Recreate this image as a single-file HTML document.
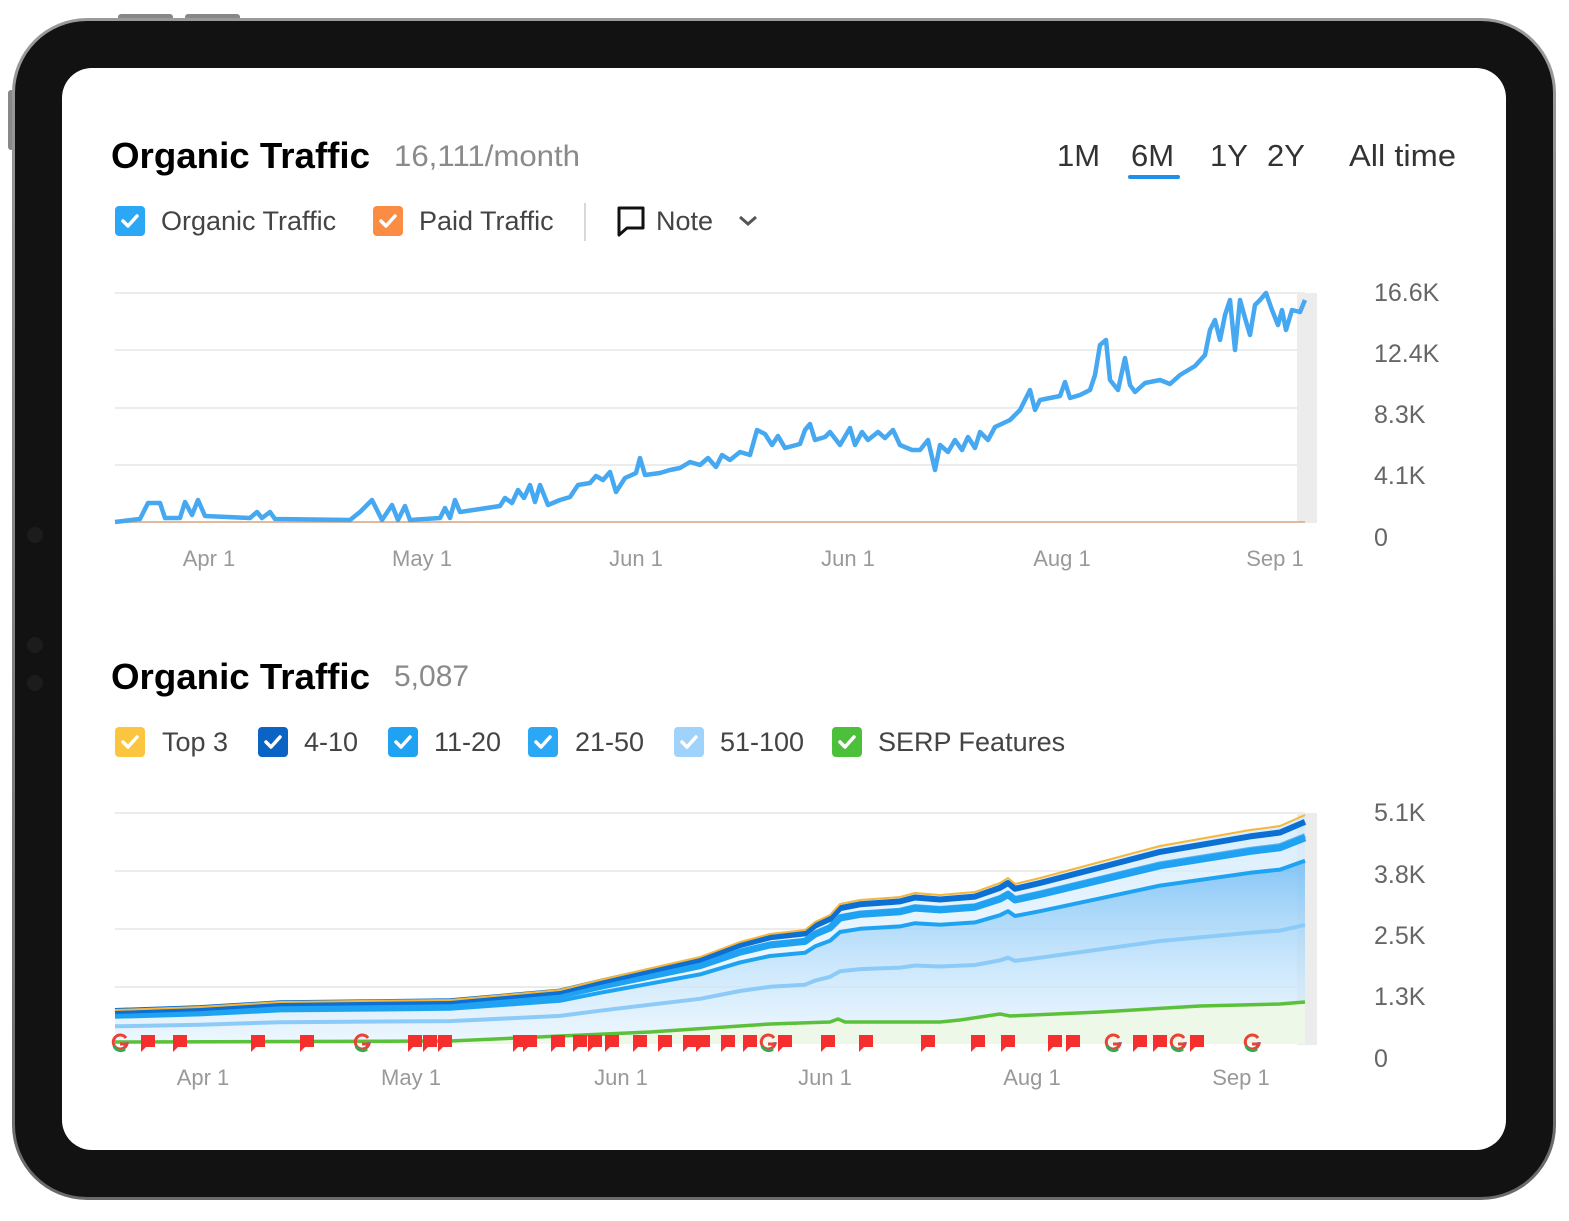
<!DOCTYPE html>
<html><head><meta charset="utf-8"><style>
html,body{margin:0;padding:0;background:#fff;width:1569px;height:1221px;overflow:hidden}
svg text{font-family:"Liberation Sans",sans-serif}
</style></head><body>
<svg id="s" width="1569" height="1221" viewBox="0 0 1569 1221" xmlns="http://www.w3.org/2000/svg">
<defs>
<linearGradient id="bz" x1="0" y1="0" x2="0" y2="1"><stop offset="0" stop-color="#9a9a9a"/><stop offset="1" stop-color="#6a6a6a"/></linearGradient>
<linearGradient id="fa" x1="0" y1="0" x2="0" y2="1"><stop offset="0" stop-color="#3aa2f0" stop-opacity="0.55"/><stop offset="1" stop-color="#bfe3fb" stop-opacity="0.15"/></linearGradient>
<linearGradient id="fb" x1="0" y1="0" x2="0" y2="1"><stop offset="0" stop-color="#cfe9fc" stop-opacity="0.8"/><stop offset="1" stop-color="#eef7fe" stop-opacity="0.6"/></linearGradient>
</defs>
<rect x="118" y="14" width="55" height="8" rx="3" fill="#888"/>
<rect x="185" y="14" width="55" height="8" rx="3" fill="#888"/>
<rect x="8" y="90" width="6" height="60" rx="3" fill="#888"/>
<rect x="12" y="18" width="1544" height="1182" rx="75" fill="url(#bz)"/>
<rect x="15" y="21" width="1538" height="1176" rx="72" fill="#121212"/>
<rect x="62" y="68" width="1444" height="1082" rx="30" fill="#fff"/>
<circle cx="35" cy="535" r="8" fill="#1c1c1c"/><circle cx="35" cy="645" r="8" fill="#1c1c1c"/><circle cx="35" cy="683" r="8" fill="#1c1c1c"/>

<text x="111" y="168" font-size="36" font-weight="bold" fill="#000" textLength="259" lengthAdjust="spacingAndGlyphs">Organic Traffic</text>
<text x="394" y="166" font-size="30" fill="#8a8a8a" textLength="186" lengthAdjust="spacingAndGlyphs">16,111/month</text>
<g font-size="31" fill="#333">
<text x="1057" y="166">1M</text><text x="1131" y="166">6M</text><text x="1210" y="166">1Y</text><text x="1267" y="166">2Y</text><text x="1349" y="166" textLength="107" lengthAdjust="spacingAndGlyphs">All time</text></g>
<rect x="1128" y="175" width="52" height="4" rx="2" fill="#1e90ea"/>

<g id="lg1"></g>
<line x1="585" y1="203" x2="585" y2="241" stroke="#d8d8d8" stroke-width="2"/>
<path d="M619 208 h24 v20 h-16 l-8 7 z" fill="none" stroke="#111" stroke-width="3" stroke-linejoin="round"/>
<text x="656" y="230" font-size="27" fill="#444">Note</text>
<path d="M740 217 l8 7 l8 -7" fill="none" stroke="#555" stroke-width="3"/>

<g stroke="#e6e6e6" stroke-width="1.5">
<line x1="115" y1="293" x2="1305" y2="293"/><line x1="115" y1="350" x2="1305" y2="350"/><line x1="115" y1="408" x2="1305" y2="408"/><line x1="115" y1="465" x2="1305" y2="465"/>
<line x1="115" y1="813" x2="1305" y2="813"/><line x1="115" y1="871" x2="1305" y2="871"/><line x1="115" y1="929" x2="1305" y2="929"/><line x1="115" y1="987" x2="1305" y2="987"/>
</g>
<rect x="1297" y="293" width="20" height="230" fill="#ececec"/>
<rect x="1297" y="813" width="20" height="232" fill="#ececec"/>
<line x1="115" y1="522" x2="1305" y2="522" stroke="#e0b9a0" stroke-width="2"/>
<polyline id="top" fill="none" stroke="#45a8f0" stroke-width="4.5" stroke-linejoin="round"/>

<g font-size="25" fill="#666">
<text x="1374" y="301">16.6K</text><text x="1374" y="362">12.4K</text><text x="1374" y="423">8.3K</text><text x="1374" y="484">4.1K</text><text x="1374" y="546">0</text>
<text x="1374" y="821">5.1K</text><text x="1374" y="883">3.8K</text><text x="1374" y="944">2.5K</text><text x="1374" y="1005">1.3K</text><text x="1374" y="1067">0</text>
</g>
<g font-size="22" fill="#999" text-anchor="middle">
<text x="209" y="566">Apr 1</text><text x="422" y="566">May 1</text><text x="636" y="566">Jun 1</text><text x="848" y="566">Jun 1</text><text x="1062" y="566">Aug 1</text><text x="1275" y="566">Sep 1</text>
<text x="203" y="1085">Apr 1</text><text x="411" y="1085">May 1</text><text x="621" y="1085">Jun 1</text><text x="825" y="1085">Jun 1</text><text x="1032" y="1085">Aug 1</text><text x="1241" y="1085">Sep 1</text>
</g>

<text x="111" y="689" font-size="36" font-weight="bold" fill="#000" textLength="259" lengthAdjust="spacingAndGlyphs">Organic Traffic</text>
<text x="394" y="686" font-size="30" fill="#8a8a8a">5,087</text>
<g id="lg2"></g>
<g id="bot"></g>
</svg>
<script>
var NS="http://www.w3.org/2000/svg",s=document.getElementById('s');
function el(p,t,a){var e=document.createElementNS(NS,t);for(var k in a)e.setAttribute(k,a[k]);p.appendChild(e);return e}
function cb(g,x,y,c){el(g,'rect',{x:x,y:y,width:30,height:30,rx:4,fill:c});el(g,'path',{d:'M'+(x+8)+' '+(y+15)+' l5 5 l9 -10',fill:'none',stroke:'#fff','stroke-width':3.5,'stroke-linecap':'round','stroke-linejoin':'round'})}
function tx(g,x,y,t){var e=el(g,'text',{x:x,y:y,'font-size':27,fill:'#444'});e.textContent=t}
var g1=document.getElementById('lg1');
cb(g1,115,206,'#2aa7f5');tx(g1,161,230,'Organic Traffic');cb(g1,373,206,'#fb8c44');tx(g1,419,230,'Paid Traffic');
var g2=document.getElementById('lg2');
[[115,'#fbc540','Top 3',162],[258,'#0b63c4','4-10',304],[388,'#1fa2f2','11-20',434],[528,'#2aa7f5','21-50',575],[674,'#9fd3fb','51-100',720],[832,'#4cc03a','SERP Features',878]].forEach(function(a){cb(g2,a[0],727,a[1]);tx(g2,a[3],751,a[2])});
var tp=[[115,522],[140,519],[148,503],[160,503],[165,518],[180,518],[185,502],[192,515],[198,500],[205,516],[250,518],[257,512],[262,518],[270,512],[275,519],[350,520],[360,512],[372,500],[382,520],[392,505],[398,520],[405,506],[410,520],[440,518],[445,508],[450,518],[455,500],[460,512],[500,506],[505,498],[512,503],[518,490],[524,498],[530,485],[535,502],[540,485],[548,505],[560,500],[570,497],[578,485],[590,483],[596,476],[603,480],[610,472],[616,492],[625,478],[636,473],[640,458],[645,475],[660,473],[670,470],[680,468],[690,462],[700,465],[708,458],[716,467],[722,455],[730,460],[740,452],[750,455],[757,430],[765,434],[772,445],[778,436],[785,448],[800,444],[805,430],[810,424],[815,440],[825,437],[830,432],[840,445],[850,428],[855,445],[862,432],[868,440],[878,432],[885,438],[893,430],[900,445],[912,450],[920,450],[928,440],[935,470],[940,445],[948,452],[955,440],[962,450],[968,437],[975,448],[980,432],[988,440],[995,427],[1010,420],[1020,410],[1025,400],[1030,390],[1035,410],[1040,400],[1050,398],[1060,396],[1065,382],[1070,398],[1080,395],[1090,390],[1095,375],[1100,345],[1106,340],[1110,380],[1118,390],[1125,358],[1130,385],[1135,392],[1145,383],[1160,380],[1170,384],[1180,375],[1195,366],[1205,355],[1210,330],[1215,320],[1220,340],[1225,315],[1230,300],[1235,350],[1240,300],[1245,318],[1250,335],[1255,305],[1260,300],[1266,293],[1272,310],[1278,325],[1282,310],[1286,330],[1292,310],[1300,312],[1305,300]];
document.getElementById('top').setAttribute('points',tp.join(' '));
var T=[[115,1010],[200,1007],[280,1002],[450,1000],[560,990],[600,980],[700,957],[740,942],[770,934],[805,930],[815,922],[830,915],[840,904],[860,900],[900,897],[915,893],[940,895],[975,892],[1000,883],[1008,878],[1015,884],[1040,878],[1100,862],[1160,846],[1250,830],[1280,826],[1305,815]];
var B=1044;
function lvl(r){return T.map(function(p){return [p[0],(B-r*(B-p[1])).toFixed(1)]})}
function pts(a){return a.map(function(p){return p.join(',')}).join(' ')}
var bot=document.getElementById('bot');
function area(a,f){el(bot,'polygon',{points:pts(a)+' 1305,'+B+' 115,'+B,fill:f})}
area(T,'url(#fb)');area(lvl(0.8),'url(#fa)');
var gr=[[115,1042],[450,1041],[560,1036],[650,1032],[740,1026],[770,1024],[830,1022],[838,1019],[845,1022],[900,1022],[940,1022],[960,1020],[1000,1014],[1010,1016],[1100,1012],[1200,1006],[1280,1004],[1305,1002]];
el(bot,'polygon',{points:pts(gr)+' 1305,'+B+' 115,'+B,fill:'#eef8e8'});
function ln(a,c,w){el(bot,'polyline',{points:pts(a),fill:'none',stroke:c,'stroke-width':w,'stroke-linejoin':'round'})}
ln(lvl(0.52),'#8ccbf8',4);ln(lvl(0.8),'#1ea3f3',4);ln(lvl(0.91),'#5eb2ee',5);ln(lvl(0.9),'#1fa2f2',7);ln(lvl(0.97),'#0b6fd3',6);ln(T,'#f5b63a',2);
ln(gr,'#5cc13a',3.5);
var fl=[148,180,258,307,415,430,445,520,530,558,580,595,612,640,665,690,703,728,750,785,828,866,928,978,1008,1055,1073,1140,1160,1197];
fl.forEach(function(x){el(bot,'path',{d:'M'+(x-7)+' 1035 h14 v12 h-9 l-5 5 z',fill:'#f52e2e'})});
[120,362,768,1113,1178,1252].forEach(function(x){
el(bot,'circle',{cx:x,cy:1042,r:7,fill:'none',stroke:'#4285f4','stroke-width':3,'stroke-dasharray':'11 33'});
el(bot,'path',{d:'M'+(x+6)+' 1038 a7 7 0 1 0 1 6 h-7',fill:'none',stroke:'#ea4335','stroke-width':3});
el(bot,'path',{d:'M'+(x-6)+' 1046 a7 7 0 0 0 11 3',fill:'none',stroke:'#34a853','stroke-width':3});
});
</script>
</body></html>
